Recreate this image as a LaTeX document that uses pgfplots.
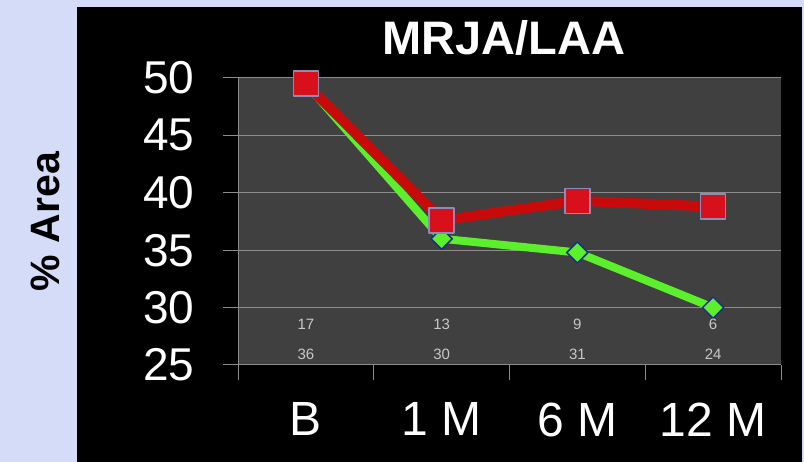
\documentclass[border=0pt]{standalone}
\usepackage{fontspec}
\setmainfont{Liberation Sans}
\usepackage{pgfplots}
\pgfplotsset{compat=1.18}
\definecolor{pagebg}{HTML}{D4DCF8}
\definecolor{plotbg}{HTML}{404040}
\definecolor{gridc}{HTML}{8C8C8C}
\definecolor{redline}{HTML}{C80A0A}
\definecolor{redmark}{HTML}{D8101C}
\definecolor{rededge}{HTML}{8C8CB4}
\definecolor{greenline}{HTML}{5CF02C}
\definecolor{greenedge}{HTML}{1C2C8C}
\definecolor{smalltxt}{HTML}{C8C8C8}

\begin{document}
\begin{tikzpicture}
\useasboundingbox (0,0) rectangle (804pt,462pt);
\fill[pagebg] (0,0) rectangle (804pt,462pt);
\fill[black] (77pt,0) rectangle (802pt,455pt);
\begin{axis}[
    at={(238pt,97pt)}, anchor=south west,
    scale only axis, width=543pt, height=287pt,
    xmin=-0.5, xmax=3.5, ymin=25, ymax=50,
    axis background/.style={fill=plotbg},
    axis x line*=bottom, axis y line*=left,
    axis line style={gridc, line width=1pt, -},
    xtick={0,1,2,3}, xticklabels={B,1 M,6 M,12 M},
    minor xtick={-0.5,0.5,1.5,2.5,3.5},
    ytick={25,30,...,50},
    ymajorgrids, major grid style={gridc, line width=1pt},
    tick align=outside, major tick length=15pt, minor tick length=15pt,
    major x tick style={draw=none},
    minor x tick style={gridc, line width=1pt},
    major y tick style={gridc, line width=1pt},
    tick label style={text=white},
    yticklabel style={font=\fontsize{46}{46}\selectfont, xshift=-25pt},
    xticklabel style={font=\fontsize{48}{48}\selectfont, yshift=-19pt},
    /pgf/number format/assume math mode=true,
    title={MRJA/LAA},
    title style={font=\bfseries\fontsize{47}{47}\selectfont, text=white,
                 at={(axis description cs:0.49,1)}, anchor=base, yshift=17pt},
    ylabel={\% Area},
    ylabel style={font=\bfseries\fontsize{41}{41}\selectfont, text=black,
                  at={(axis description cs:0,0.5)}, anchor=center, yshift=193pt},
    clip=false,
]
% green series (drawn first, lies under the red one)
\addplot[greenline, line width=8pt, line join=round,
    mark=square*, mark size=7.5pt,
    mark options={rotate=45, fill=greenline, draw=greenedge, line width=1.5pt}]
coordinates {(0,49.5) (1,36.0) (2,34.8) (3,30.0)};

% red series
\addplot[redline, line width=10pt, line join=round,
    mark=square*, mark size=12.5pt,
    mark options={fill=redmark, draw=rededge, line width=1.5pt}]
coordinates {(0,49.5) (1,37.6) (2,39.3) (3,38.8)};

% small counts inside the plot area
\addplot[draw=none, mark=none, nodes near coords, point meta=explicit symbolic,
    nodes near coords style={anchor=center, text=smalltxt,
                             font=\fontsize{15}{15}\selectfont}]
coordinates {(0,28.5) [17] (1,28.5) [13] (2,28.5) [9] (3,28.5) [6]};
\addplot[draw=none, mark=none, nodes near coords, point meta=explicit symbolic,
    nodes near coords style={anchor=center, text=smalltxt,
                             font=\fontsize{15}{15}\selectfont}]
coordinates {(0,25.9) [36] (1,25.9) [30] (2,25.9) [31] (3,25.9) [24]};
\end{axis}
\end{tikzpicture}
\end{document}
